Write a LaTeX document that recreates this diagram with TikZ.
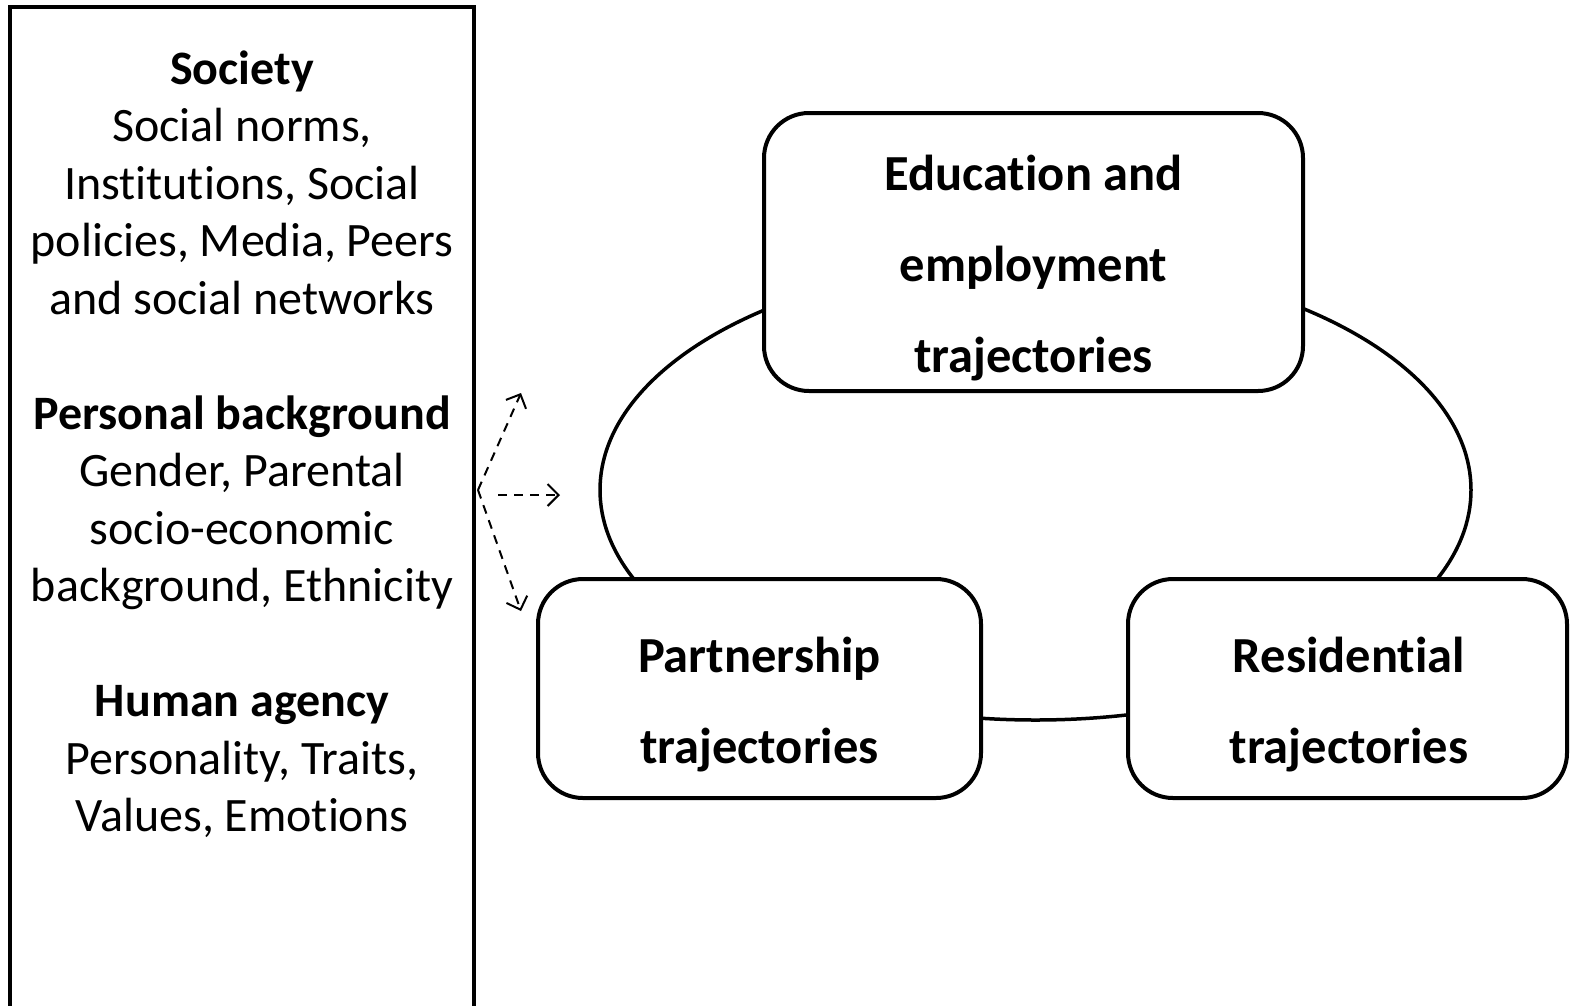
\documentclass[tikz,border=0pt]{standalone}
\usepackage{fontspec}
\setmainfont[Ligatures=NoCommon]{Carlito}
\usetikzlibrary{shapes.geometric,arrows.meta}
\begin{document}
\begin{tikzpicture}[x=1pt,y=-1pt,
  trajbox/.style={draw,line width=4pt,rounded corners=45pt,fill=white,inner sep=0pt},
  trajtext/.style={align=center,inner sep=0pt,font=\fontsize{50.5}{91}\selectfont\bfseries},
  sidetext/.style={align=center,inner sep=0pt,font=\fontsize{48}{57.5}\selectfont},
  dasharrow/.style={line width=2pt,dash pattern=on 9pt off 7pt,
    -{Straight Barb[length=11pt,width=22pt,line width=2pt]}}]
\useasboundingbox (0,0) rectangle (1571,1005);
% left frame
\draw[line width=4pt] (10,1010) -- (10,7) -- (474,7) -- (474,1010);
\node[sidetext] (side) at (242,444) {\textbf{Society}\\Social norms,\\Institutions, Social\\policies, Media, Peers\\and social networks\\[57.5pt]
\textbf{Personal background}\\Gender, Parental\\socio-economic\\background, Ethnicity\\[57.5pt]
\textbf{Human agency}\\Personality, Traits,\\Values, Emotions};
% ellipse
\node[draw,ellipse,line width=3.5pt,minimum width=871pt,minimum height=460pt,inner sep=0pt] (cycle) at (1035.5,490) {};
% boxes
\node[trajbox,minimum width=539pt,minimum height=278pt] (edu) at (1033.5,252) {};
\node[trajtext] (edutext) at (1033.5,268) {Education and\\employment\\trajectories};
\node[trajbox,minimum width=443pt,minimum height=219pt] (part) at (759.5,688.5) {};
\node[trajtext] (parttext) at (759.5,705) {Partnership\\trajectories};
\node[trajbox,minimum width=439pt,minimum height=219pt] (res) at (1347.5,688.5) {};
\node[trajtext] (restext) at (1349,705) {Residential\\trajectories};
% arrows
\coordinate (src) at (478,490);
\coordinate (up) at (521,393);
\coordinate (mid) at (560,495);
\coordinate (down) at (521,611);
\draw[dasharrow] (src) -- (up);
\draw[dasharrow] (src) ++(20,5) -- (mid);
\draw[dasharrow] (src) -- (down);
\end{tikzpicture}
\end{document}
